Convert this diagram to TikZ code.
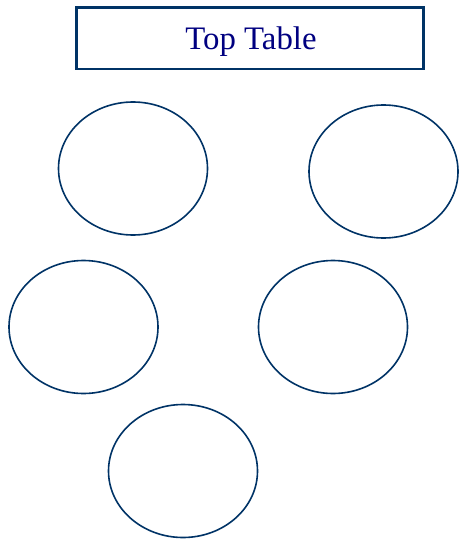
\documentclass[tikz,border=0pt]{standalone}
\usepackage{fontspec}
\setmainfont{Liberation Serif}
\usetikzlibrary{shapes.geometric}
\definecolor{edgeblue}{HTML}{003366}
\definecolor{textnavy}{HTML}{000080}
\tikzset{
  seat/.style={draw=edgeblue, line width=1.6pt, ellipse, minimum width=149pt, minimum height=133pt, inner sep=0pt},
  toptable/.style={draw=edgeblue, line width=2.2pt, minimum width=347pt, minimum height=61.5pt, inner sep=0pt}
}
\begin{document}
\begin{tikzpicture}[x=1pt,y=-1pt]
\useasboundingbox (0,0) rectangle (459,540);
\node[toptable] (top) at (250,38.3) {};
\node[anchor=base, text=textnavy, font=\fontsize{32.8}{38}\selectfont, inner sep=0pt] (toplabel) at (251,49.5) {Top Table};
\node[seat] (s1) at (133,168.5) {};
\node[seat] (s2) at (383.5,171.5) {};
\node[seat] (s3) at (83.5,327) {};
\node[seat] (s4) at (333,327) {};
\node[seat] (s5) at (183,471) {};
\end{tikzpicture}
\end{document}
